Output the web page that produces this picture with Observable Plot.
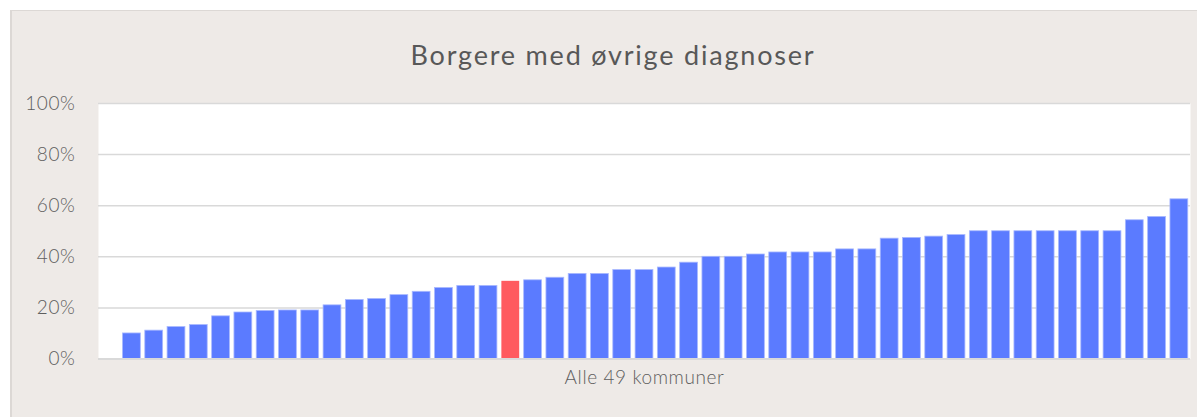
<!DOCTYPE html>
<html>
<head>
<meta charset="utf-8">
<script src="https://cdn.jsdelivr.net/npm/d3@7"></script>
<script src="https://cdn.jsdelivr.net/npm/@observablehq/plot@0.6"></script>
<style>
  body { margin: 0; background: #ffffff; }
  #wrap { position: relative; width: 1197px; height: 417px; overflow: hidden; font-family: Lato, "Noto Sans", sans-serif; }
  #panel { position: absolute; left: 10px; top: 10px; width: 1187px; height: 407px; background: #EEEAE7;
           border-top: 1px solid #DCD8D5; border-left: 2px solid #DCD8D5; box-sizing: border-box; }
  #title { position: absolute; left: 0; width: 1226px; top: 38px; text-align: center; font-size: 27px;
           color: #585858; font-weight: 400; letter-spacing: 1.8px; font-family: Lato, "Noto Sans", sans-serif; }
  #chart { position: absolute; left: 0; top: 90px; }
</style>
</head>
<body>
<div id="wrap">
  <div id="panel"></div>
  <div id="title">Borgere med øvrige diagnoser</div>
  <div id="chart"></div>
</div>
<script>
// 49 municipalities, sorted ascending (values in %); the first slot is empty (0)
const kommuner = d3.range(1, 50).map(i => "K" + i);
const values = [
  0, 10.0, 11.1, 12.5, 13.3, 16.7, 18.2, 18.8, 19.0, 19.0,
  21.0, 23.1, 23.5, 25.0, 26.3, 27.8, 28.6, 28.6, 30.4, 30.8,
  31.8, 33.3, 33.3, 34.8, 34.8, 35.8, 37.7, 40.0, 40.0, 40.9,
  41.7, 41.7, 41.7, 42.9, 42.9, 47.1, 47.4, 47.9, 48.5, 50.0,
  50.0, 50.0, 50.0, 50.0, 50.0, 50.0, 54.3, 55.6, 62.5
];
const highlight = "K19";
const yTicks = [0, 20, 40, 60, 80, 100];
const xLabel = "Alle 49 kommuner";

const data = kommuner.map((k, i) => ({k, v: values[i]}));

const chart = Plot.plot({
  width: 1197,
  height: 327,
  marginTop: 13,
  marginBottom: 58.5,
  marginLeft: 98,
  marginRight: 7,
  style: {background: "transparent", fontFamily: "Lato, 'Noto Sans', sans-serif", fontSize: "19px", fontWeight: 300, color: "#5e5e5e", letterSpacing: "0.6px", overflow: "visible"},
  x: {domain: kommuner, paddingInner: 0.2, paddingOuter: 0.1, round: false, axis: null},
  y: {domain: [0, 100], ticks: yTicks, tickFormat: d => d + "%", label: null, tickSize: 0, tickPadding: 23},
  marks: [
    Plot.frame({fill: "white", stroke: null}),
    Plot.ruleY(yTicks.slice(1), {stroke: "#D9D9D9", strokeWidth: 1.5}),
    Plot.barY(data.filter(d => d.k !== highlight), {x: "k", y: "v", fill: "#5B7BFF", stroke: "#A9B9FF", strokeWidth: 0.8}),
    Plot.barY(data.filter(d => d.k === highlight), {x: "k", y: "v", fill: "#FF5A5F"}),
    Plot.ruleY([0], {stroke: "#D9D9D9", strokeWidth: 2}),
    Plot.text([xLabel], {frameAnchor: "bottom", dy: 24.5, fill: "#5e5e5e", fontSize: 19, fontWeight: 300, style: "letter-spacing: 0.9px"})
  ]
});
document.getElementById("chart").appendChild(chart);
</script>
</body>
</html>
